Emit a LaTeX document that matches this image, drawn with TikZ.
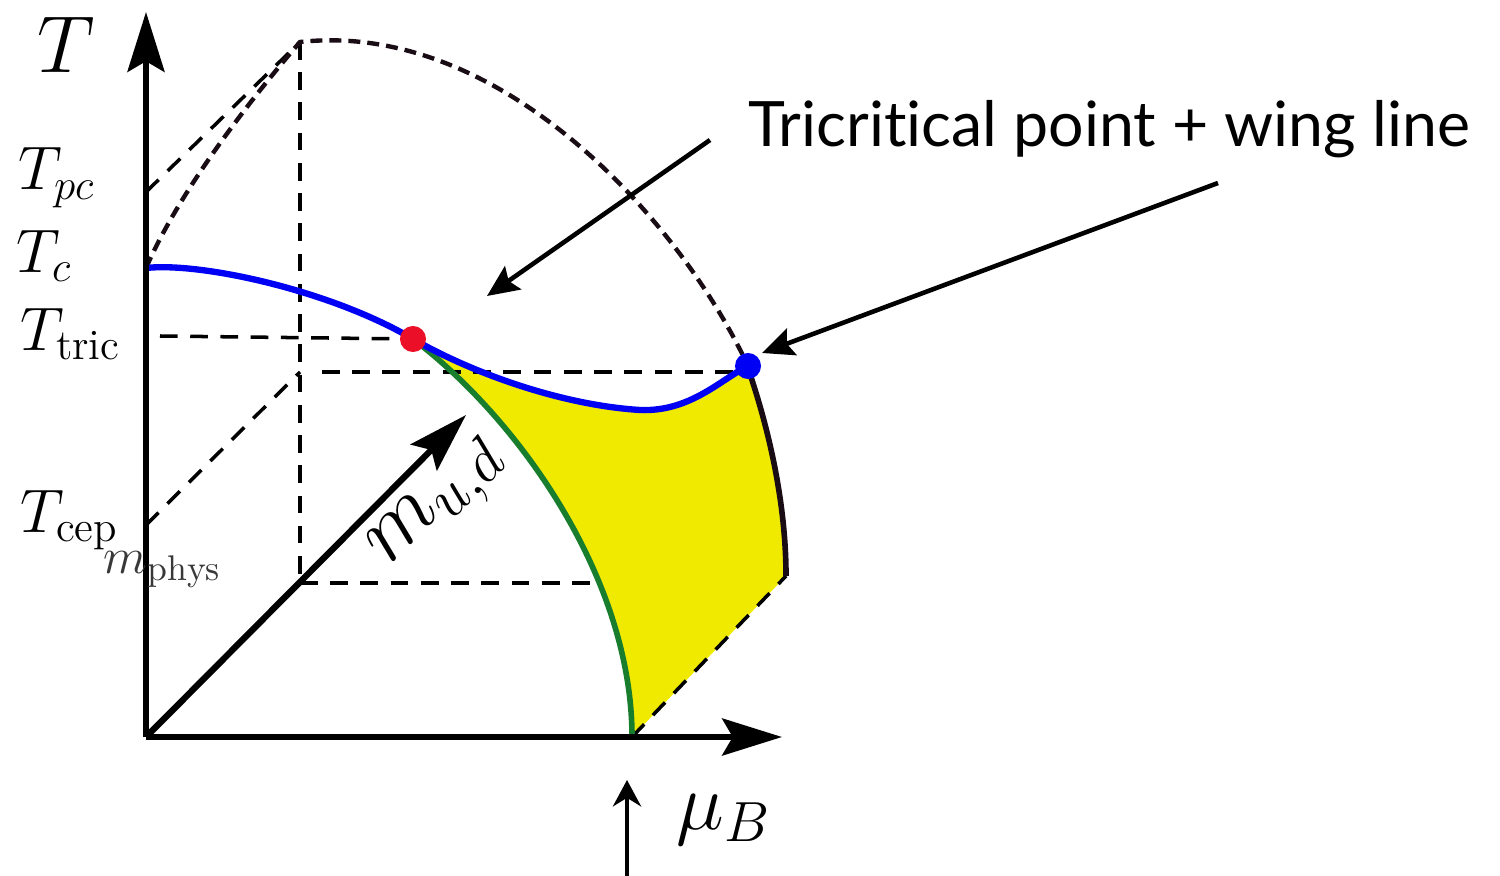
\RequirePackage{fix-cm}
\documentclass[tikz,border=0pt]{standalone}
\usepackage{fontspec}
\newfontfamily\lato[Ligatures={NoCommon,NoDiscretionary,NoRare}]{Lato}
\usetikzlibrary{arrows.meta}
\definecolor{cblue}{RGB}{0,0,245}
\definecolor{cgreen}{RGB}{24,125,45}
\definecolor{cyellow}{RGB}{240,234,0}
\definecolor{cred}{RGB}{235,16,40}
\definecolor{cdark}{RGB}{25,12,20}
\begin{document}
\begin{tikzpicture}[x=0.01cm,y=-0.01cm,
  axis/.style={line width=1.8pt,-{Stealth[length=17pt,width=10.5pt,inset=3pt]}},
  thindash/.style={line width=1pt,dash pattern=on 5pt off 3.6pt},
  thickdash/.style={line width=1.25pt,dash pattern=on 3.4pt off 2pt},
  annot/.style={line width=1.3pt,-{Stealth[length=9pt,width=8pt,inset=1.5pt]}},
  lbl/.style={inner sep=0pt,font=\fontsize{17.5}{21}\selectfont},
  biglbl/.style={inner sep=0pt,font=\fontsize{23}{27}\selectfont},
  dotnode/.style={circle,inner sep=0pt,minimum size=7.4pt}]
\useasboundingbox (0,0) rectangle (1500,876);
% coordinates
\coordinate (O) at (146,737);
\coordinate (Ttop) at (146,12);
\coordinate (Mtip) at (782,737);
\coordinate (Dtip) at (466,415);
\coordinate (Tc) at (146,268);
\coordinate (Tpc) at (146,192);
\coordinate (Tcep) at (146,525);
\coordinate (P) at (300,42);
\coordinate (Q) at (300,372);
\coordinate (Q2) at (322,372);
\coordinate (Qe) at (745,372);
\coordinate (R) at (300,583);
\coordinate (Re) at (596,583);
\coordinate (Ta) at (160,336);
\coordinate (tric) at (413,339);
\coordinate (wing) at (748,366);
\coordinate (wtop) at (750,374);
\coordinate (wbot) at (786,576);
\coordinate (mub) at (632,737);
% yellow region
\fill[cyellow] (tric) .. controls (470,372) and (560,405) .. (640,410)
  .. controls (690,412) and (720,380) .. (wing) -- (wtop)
  .. controls (772,440) and (786,510) .. (wbot) -- (mub)
  .. controls (632,580) and (520,420) .. (tric) -- cycle;
% thin dashed
\draw[thindash] (Tpc) -- (P);
\draw[thindash] (P) -- (R);
\draw[thindash] (Ta) -- (tric);
\draw[thindash] (Q2) -- (Qe);
\draw[thindash] (Tcep) -- (Q);
\draw[thindash] (R) -- (Re);
\draw[thindash] (mub) -- (wbot);
% thick dashed boundary
\draw[thickdash,cdark] (Tc) .. controls (180,190) and (250,100) .. (P)
  .. controls (500,20) and (680,220) .. (wing);
% curves
\draw[cgreen,line width=1.6pt] (tric) .. controls (520,420) and (632,580) .. (mub);
\draw[cdark,line width=1.6pt] (wtop) .. controls (772,440) and (786,510) .. (wbot);
\draw[cblue,line width=1.8pt] (Tc) .. controls (200,262) and (330,290) .. (tric)
  .. controls (470,372) and (560,405) .. (640,410)
  .. controls (690,412) and (720,380) .. (wing);
% axes
\draw[axis] (O) -- (Ttop);
\draw[axis] (O) -- (Mtip);
\draw[axis] (O) -- (Dtip);
% points
\node[dotnode,fill=cred] (tricdot) at (tric) {};
\node[dotnode,fill=cblue] (wingdot) at (wing) {};
% annotation arrows
\coordinate (a1s) at (710,140);
\coordinate (a1e) at (487,296);
\coordinate (a2s) at (1218,183);
\coordinate (a2e) at (762,353);
\coordinate (ups) at (627,876);
\coordinate (upe) at (627,780);
\draw[annot] (a1s) -- (a1e);
\draw[annot] (a2s) -- (a2e);
\draw[line width=1.3pt,-{Stealth[length=7.5pt,width=8pt]}] (ups) -- (upe);
% labels
\node[biglbl,anchor=base] (lT) at (66,73) {$T$};
\node[lbl,anchor=base west] (lTpc) at (18,190) {$T_{pc}$};
\node[lbl,anchor=base west] (lTc) at (16,272) {$T_c$};
\node[lbl,anchor=base west] (lTtric) at (20,350) {$T_{\mathrm{tric}}$};
\node[lbl,anchor=base west] (lTcep) at (20,532) {$T_{\mathrm{cep}}$};
\node[inner sep=0pt,anchor=base west,text=black!78,font=\fontsize{14.5}{17}\selectfont] (lmphys) at (103,573) {$m_{\mathrm{phys}}$};
\node[biglbl,anchor=base west] (lmu) at (676,829) {$\mu_B$};
\node[inner sep=0pt,rotate=45,font=\fontsize{25}{29}\selectfont] (lmud) at (440,506) {$m_{u,d}$};
\node[inner sep=0pt,anchor=base west,font=\lato\fontsize{17.8}{22}\selectfont] (title) at (748,147) {Tricritical point + wing line};
\end{tikzpicture}
\end{document}
